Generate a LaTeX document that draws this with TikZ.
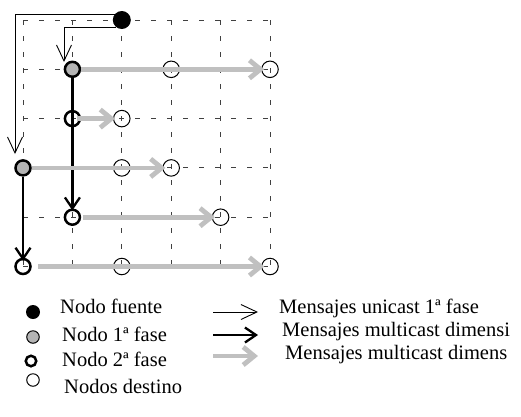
\documentclass[tikz,border=0pt]{standalone}
\usepackage{fontspec}
\setmainfont{Liberation Serif}
\usetikzlibrary{arrows.meta}
\definecolor{nodegray}{RGB}{180,180,180}
\definecolor{arrgray}{RGB}{192,192,192}
\begin{document}
\begin{tikzpicture}[x=1pt,y=-1pt,
  gridline/.style={draw=black!75, line width=0.9pt, dash pattern=on 4.5pt off 11.5pt},
  dest/.style={circle, draw, line width=1pt, minimum size=16.5pt, inner sep=0pt},
  ph2/.style={circle, draw, line width=2.5pt, minimum size=15pt, inner sep=0pt},
  ph1/.style={circle, draw, line width=2.5pt, minimum size=15pt, inner sep=0pt, fill=nodegray},
  src/.style={circle, fill=black, minimum size=18pt, inner sep=0pt},
  uarrow/.style={line width=0.9pt, -{Straight Barb[length=16pt,width=15pt,line width=0.9pt]}},
  marrow/.style={line width=2.3pt, -{Straight Barb[length=11pt,width=15pt]}},
  garrow/.style={draw=arrgray, line width=4.8pt, -{Straight Barb[length=11pt,width=18pt]}},
  lbl/.style={anchor=base west, inner sep=0pt, font=\fontsize{20.5}{24}\selectfont}
]
\useasboundingbox (0,0) rectangle (521,416);
% grid
\foreach \i in {0,...,5} {
  \draw[gridline] (23,{20+49.3*\i}) -- (270,{20+49.3*\i});
  \draw[gridline] ({23+49.4*\i},20) -- ({23+49.4*\i},266.5);
}
% nodes
\node[src]  (s)   at (121.8,20) {};
\node[ph1]  (g1)  at (72.4,69.3) {};
\node[ph1]  (g2)  at (23,167.9) {};
\node[ph2]  (p1)  at (72.4,118.6) {};
\node[ph2]  (p2)  at (72.4,217.2) {};
\node[ph2]  (p3)  at (23,266.5) {};
\node[dest] (d1)  at (171.2,69.3) {};
\node[dest] (d2)  at (270,69.3) {};
\node[dest] (d3)  at (121.8,118.6) {};
\node[dest] (d4)  at (121.8,167.9) {};
\node[dest] (d5)  at (171.2,167.9) {};
\node[dest] (d6)  at (220.6,217.2) {};
\node[dest] (d7)  at (121.8,266.5) {};
\node[dest] (d8)  at (270,266.5) {};
% unicast arrows
\coordinate (u1) at (15,154);
\coordinate (u2) at (64,62);
\draw[uarrow] (s.140) -| (u1);
\draw[uarrow] (s.230) -| (u2);
% multicast dimension arrows (black)
\draw[marrow] (g1.south) -- ([yshift=-2pt]p2.north);
\draw[marrow] (g2.south) -- ([yshift=-3pt]p3.north);
% multicast gray arrows
\draw[garrow] (g1.east) -- ([xshift=3pt]d2.west);
\draw[garrow] ([xshift=5pt]p1.center) -- ([xshift=2pt]d3.west);
\draw[garrow] (g2.east) -- ([xshift=3pt]d5.west);
\draw[garrow] ([xshift=2pt]p2.east) -- ([xshift=3pt]d6.west);
\draw[garrow] ([xshift=6pt]p3.east) -- ([xshift=3pt]d8.west);
% legend nodes
\node[circle, fill=black, minimum size=14pt, inner sep=0pt] (ls) at (33,312) {};
\node[circle, draw, line width=1pt, fill=nodegray, minimum size=12.5pt, inner sep=0pt] (lg) at (33,337) {};
\node[circle, draw, line width=2.5pt, minimum size=10.5pt, inner sep=0pt] (lp) at (31,361) {};
\node[circle, draw, line width=1pt, minimum size=12.5pt, inner sep=0pt] (ld) at (33,380) {};
\node[lbl] (t1) at (60,313) {Nodo fuente};
\node[lbl] (t2) at (62,341) {Nodo 1ª fase};
\node[lbl] (t3) at (62,366) {Nodo 2ª fase};
\node[lbl] (t4) at (64,393) {Nodos destino};
% legend arrows
\coordinate (a1s) at (213,312); \coordinate (a1e) at (258,312);
\coordinate (a2s) at (213,335); \coordinate (a2e) at (258,335);
\coordinate (a3s) at (213,356); \coordinate (a3e) at (258,356);
\draw[uarrow] (a1s) -- (a1e);
\draw[marrow] (a2s) -- (a2e);
\draw[garrow] (a3s) -- (a3e);
\node[lbl] (t5) at (279,313) {Mensajes unicast 1ª fase};
\node[lbl] (t6) at (282,336) {Mensajes multicast dimensi};
\node[lbl] (t7) at (285,359) {Mensajes multicast dimens};
\end{tikzpicture}
\end{document}
